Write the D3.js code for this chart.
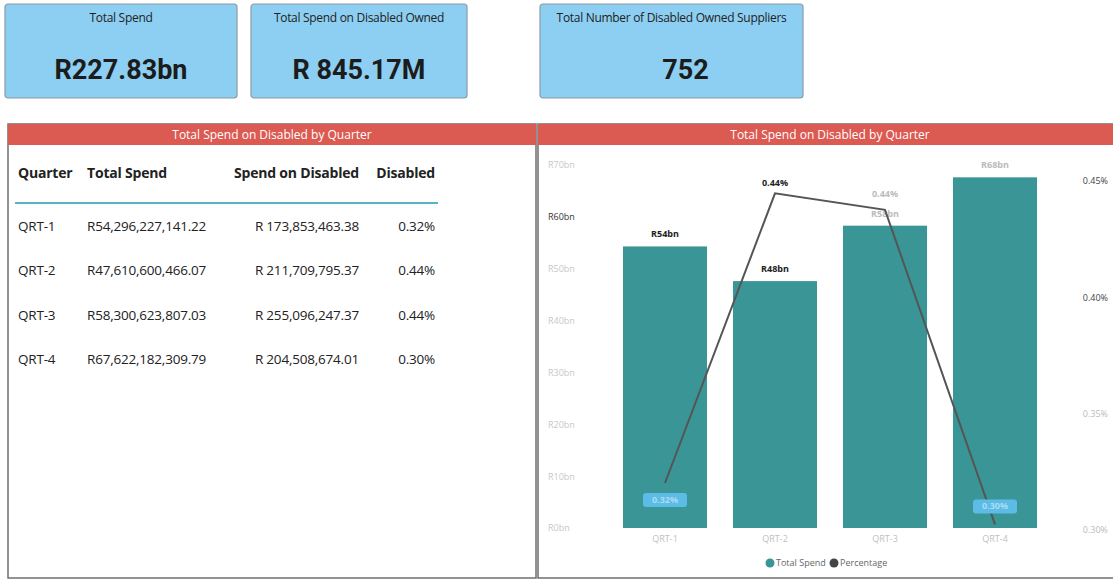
<!DOCTYPE html>
<html>
<head>
<meta charset="utf-8">
<script src="https://cdn.jsdelivr.net/npm/d3@7"></script>
<style>
  body { margin: 0; background: #fff; }
  svg { display: block; }
</style>
</head>
<body>
<script>
// cards at the top
var kpiTitles = ["Total Spend", "Total Spend on Disabled Owned", "Total Number of Disabled Owned Suppliers"];
var kpiValues = ["R227.83bn", "R 845.17M", "752"];

// table + chart data
var quarters = ["QRT-1", "QRT-2", "QRT-3", "QRT-4"];
var totalSpend = [54296227141.22, 47610600466.07, 58300623807.03, 67622182309.79];
var spendDisabled = [173853463.38, 211709795.37, 255096247.37, 204508674.01];
var pctDisabled = [0.3202, 0.4447, 0.4376, 0.3024];
var leftTicks = [0, 10, 20, 30, 40, 50, 60, 70];   // R bn
var rightTicks = [0.30, 0.35, 0.40, 0.45];          // %
var tableHeaders = ["Quarter", "Total Spend", "Spend on Disabled", "Disabled"];

var W = 1113, H = 580;
var teal = "#3a9596";
var red = "#db5a52";
var font = "'Open Sans', sans-serif";

var svg = d3.select("body").append("svg")
    .attr("width", W)
    .attr("height", H);

// ---- KPI cards ----
var cards = [
    {x: 5, w: 232},
    {x: 251, w: 216},
    {x: 540, w: 263}
];
var card = svg.selectAll("g.card")
    .data(cards)
    .enter().append("g")
    .attr("class", "card")
    .attr("transform", function(d) { return "translate(" + d.x + ",4)"; });

card.append("rect")
    .attr("width", function(d) { return d.w; })
    .attr("height", 94)
    .attr("rx", 3)
    .attr("fill", "#8dcff2")
    .attr("stroke", "#8a9aa4")
    .attr("stroke-width", 1.2);

card.append("text")
    .text(function(d, i) { return kpiTitles[i]; })
    .attr("x", function(d) { return d.w / 2; })
    .attr("y", 18)
    .attr("text-anchor", "middle")
    .attr("font-family", font)
    .attr("font-size", 12)
    .attr("letter-spacing", "-0.3")
    .attr("fill", "#222");

card.append("text")
    .text(function(d, i) { return kpiValues[i]; })
    .attr("x", function(d, i) { return d.w / 2 + (i == 2 ? 14 : 0); })
    .attr("y", 75)
    .attr("text-anchor", "middle")
    .attr("font-family", "Roboto, sans-serif")
    .attr("font-weight", "bold")
    .attr("font-size", 27)
    .attr("fill", "#1c1c1c");

// ---- panels ----
var panels = [
    {x: 8, w: 528, cx: 272},
    {x: 538, w: 580, cx: 830}
];
svg.selectAll("rect.panel")
    .data(panels)
    .enter().append("rect")
    .attr("class", "panel")
    .attr("x", function(d) { return d.x; })
    .attr("y", 124)
    .attr("width", function(d) { return d.w; })
    .attr("height", 454)
    .attr("fill", "#fff")
    .attr("stroke", "#6f6f6f")
    .attr("stroke-width", 1.5);

svg.selectAll("rect.head")
    .data(panels)
    .enter().append("rect")
    .attr("class", "head")
    .attr("x", function(d) { return d.x; })
    .attr("y", 124)
    .attr("width", function(d) { return d.w; })
    .attr("height", 21)
    .attr("fill", red);

svg.selectAll("text.head")
    .data(panels)
    .enter().append("text")
    .attr("class", "head")
    .text("Total Spend on Disabled by Quarter")
    .attr("x", function(d) { return d.cx; })
    .attr("y", 139)
    .attr("text-anchor", "middle")
    .attr("font-family", font)
    .attr("font-size", 12)
    .attr("fill", "#fff");

// ---- table ----
var fmt2 = d3.format(",.2f");
var colX = [18, 87, 359, 435];
var colAnchor = ["start", "start", "end", "end"];

svg.selectAll("text.th")
    .data(tableHeaders)
    .enter().append("text")
    .attr("class", "th")
    .text(function(d) { return d; })
    .attr("x", function(d, i) { return colX[i]; })
    .attr("y", 178)
    .attr("text-anchor", function(d, i) { return colAnchor[i]; })
    .attr("font-family", font)
    .attr("font-weight", "bold")
    .attr("font-size", 14)
    .attr("letter-spacing", "-0.2")
    .attr("fill", "#222");

svg.append("line")
    .attr("x1", 15).attr("x2", 438)
    .attr("y1", 203).attr("y2", 203)
    .attr("stroke", "#55b6c2")
    .attr("stroke-width", 2);

var rowY = d3.scalePoint().domain(quarters).range([231, 364]);
var rows = svg.selectAll("g.row")
    .data(quarters)
    .enter().append("g")
    .attr("class", "row")
    .attr("transform", function(d) { return "translate(0," + rowY(d) + ")"; });

rows.selectAll("text")
    .data(function(d, i) {
        return [d, "R" + fmt2(totalSpend[i]), "R " + fmt2(spendDisabled[i]), pctDisabled[i].toFixed(2) + "%"];
    })
    .enter().append("text")
    .text(function(d) { return d; })
    .attr("x", function(d, j) { return colX[j]; })
    .attr("text-anchor", function(d, j) { return colAnchor[j]; })
    .attr("font-family", font)
    .attr("font-size", 13.5)
    .attr("letter-spacing", "-0.2")
    .attr("fill", "#222");

// ---- combo chart ----
var x = d3.scaleBand().domain(quarters).range([610, 1050]).paddingInner(0.236).paddingOuter(0.118);
var y = d3.scaleLinear().domain([0, 70]).range([528, 165]);
var y2 = d3.scaleLinear().domain([0.30, 0.45]).range([530, 181]);

// left axis labels
svg.append("g")
    .attr("transform", "translate(548,0)")
    .call(d3.axisLeft(y).tickValues(leftTicks).tickSize(0).tickFormat(function(d) { return "R" + d + "bn"; }))
    .call(function(g) { g.select(".domain").remove(); })
    .selectAll("text")
    .attr("text-anchor", "start")
    .attr("x", 0)
    .attr("font-family", font)
    .attr("font-size", 9)
    .attr("fill", function(d) { return d == 60 ? "#333" : "#c8c8c8"; });

// right axis labels
svg.append("g")
    .attr("transform", "translate(1108,0)")
    .call(d3.axisRight(y2).tickValues(rightTicks).tickSize(0).tickFormat(function(d) { return d.toFixed(2) + "%"; }))
    .call(function(g) { g.select(".domain").remove(); })
    .selectAll("text")
    .attr("x", 0)
    .attr("text-anchor", "end")
    .attr("font-family", font)
    .attr("font-size", 9)
    .attr("fill", function(d) { return d >= 0.4 ? "#444" : "#bbb"; });

// x axis labels
svg.append("g")
    .attr("transform", "translate(0,528)")
    .call(d3.axisBottom(x).tickSize(0).tickPadding(8))
    .call(function(g) { g.select(".domain").remove(); })
    .selectAll("text")
    .attr("font-family", font)
    .attr("font-size", 9)
    .attr("fill", "#c0c0c0");

svg.selectAll("rect.bar")
    .data(quarters)
    .enter().append("rect")
    .attr("class", "bar")
    .attr("x", function(d) { return x(d); })
    .attr("y", function(d, i) { return y(totalSpend[i] / 1e9); })
    .attr("width", x.bandwidth())
    .attr("height", function(d, i) { return y(0) - y(totalSpend[i] / 1e9); })
    .attr("fill", teal);

svg.selectAll("text.barlbl")
    .data(quarters)
    .enter().append("text")
    .attr("class", "barlbl")
    .text(function(d, i) { return "R" + Math.round(totalSpend[i] / 1e9) + "bn"; })
    .attr("x", function(d) { return x(d) + x.bandwidth() / 2; })
    .attr("y", function(d, i) { return y(totalSpend[i] / 1e9) - 9; })
    .attr("text-anchor", "middle")
    .attr("font-family", font)
    .attr("font-weight", "bold")
    .attr("font-size", 9)
    .attr("fill", function(d, i) { return i < 2 ? "#222" : "#bbb"; });

var line = d3.line()
    .x(function(d) { return x(d) + x.bandwidth() / 2; })
    .y(function(d, i) { return y2(pctDisabled[i]); });

svg.append("path")
    .datum(quarters)
    .attr("d", line)
    .attr("fill", "none")
    .attr("stroke", "#555")
    .attr("stroke-width", 2);

// percentage labels: boxed when over a bar
var lblDy = [17, -10, -16, -18];
var boxed = [true, false, false, true];
var plbl = svg.selectAll("g.plbl")
    .data(quarters)
    .enter().append("g")
    .attr("class", "plbl")
    .attr("transform", function(d, i) {
        return "translate(" + (x(d) + x.bandwidth() / 2) + "," + (y2(pctDisabled[i]) + lblDy[i]) + ")";
    });

plbl.filter(function(d, i) { return boxed[i]; })
    .append("rect")
    .attr("x", -22).attr("y", -7)
    .attr("width", 44).attr("height", 14)
    .attr("rx", 3)
    .attr("fill", "#5cbce6");

plbl.append("text")
    .text(function(d, i) { return pctDisabled[i].toFixed(2) + "%"; })
    .attr("y", 3)
    .attr("text-anchor", "middle")
    .attr("font-family", font)
    .attr("font-weight", "bold")
    .attr("font-size", 9)
    .attr("fill", function(d, i) { return boxed[i] ? "#a8dcf2" : (i == 1 ? "#222" : "#bbb"); });

// legend
var legendItems = [{name: "Total Spend", color: teal}, {name: "Percentage", color: "#444"}];
var lg = svg.selectAll("g.lg")
    .data(legendItems)
    .enter().append("g")
    .attr("class", "lg")
    .attr("transform", function(d, i) { return "translate(" + (770 + i * 64) + ",563)"; });
lg.append("circle").attr("r", 4.5).attr("fill", function(d) { return d.color; });
lg.append("text")
    .text(function(d) { return d.name; })
    .attr("x", 6)
    .attr("y", 3)
    .attr("font-family", font)
    .attr("font-size", 9)
    .attr("fill", "#666");
</script>
</body>
</html>
